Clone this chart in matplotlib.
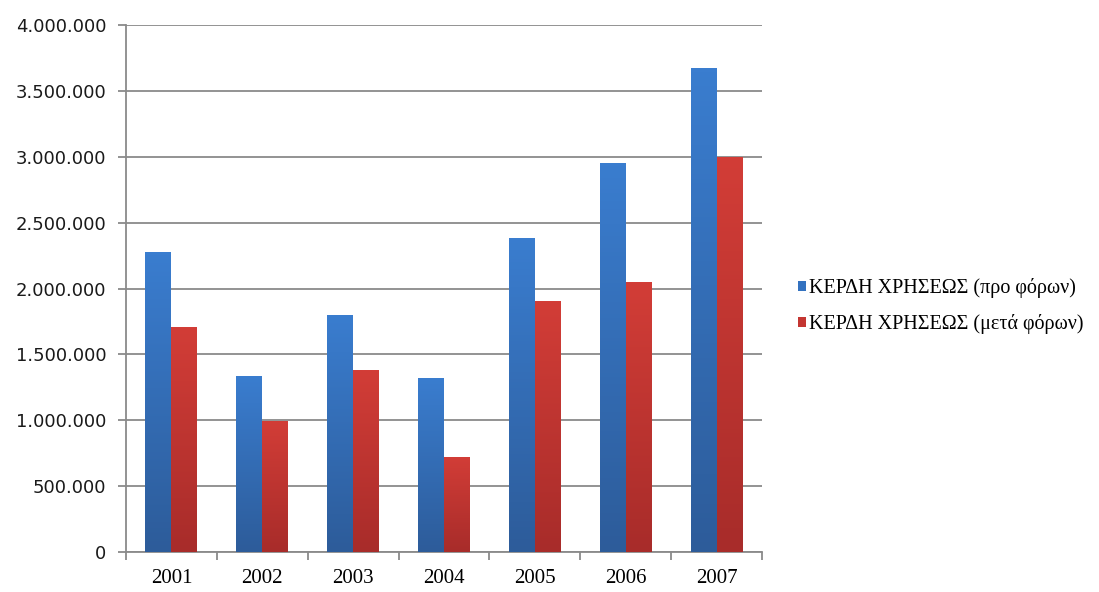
import numpy as np
import matplotlib.pyplot as plt
from matplotlib.colors import LinearSegmentedColormap
from matplotlib.ticker import FuncFormatter

years = ['2001', '2002', '2003', '2004', '2005', '2006', '2007']
before_tax = [2277000, 1336000, 1799000, 1323000, 2386000, 2955000, 3674000]
after_tax = [1705000, 995000, 1381000, 723000, 1905000, 2047000, 3000000]
labels = ['ΚΕΡΔΗ ΧΡΗΣΕΩΣ (προ φόρων)', 'ΚΕΡΔΗ ΧΡΗΣΕΩΣ (μετά φόρων)']

blue_cmap = LinearSegmentedColormap.from_list('b', ['#2d5c9a', '#3a7dcf'])
red_cmap = LinearSegmentedColormap.from_list('r', ['#a82c2a', '#d23d37'])

fig = plt.figure(figsize=(10.99, 5.92), dpi=100)
ax = fig.add_axes([126/1099, 1-552/592, (762-126)/1099, (552-25)/592])

x = np.arange(len(years))
w = 2/7
grad = np.linspace(0, 1, 100).reshape(-1, 1)


def gradient_bars(xs, vals, cmap, color, label):
    bars = ax.bar(xs, vals, w, color=color, label=label, zorder=2)
    for b in bars:
        bx, by = b.get_x(), b.get_y()
        im = ax.imshow(grad, cmap=cmap, aspect='auto', origin='lower',
                       extent=[bx, bx + b.get_width(), by, by + b.get_height()],
                       zorder=3)
        im.set_clip_path(b)
    return bars


gradient_bars(x - w/2, before_tax, blue_cmap, '#3372c0', labels[0])
gradient_bars(x + w/2, after_tax, red_cmap, '#c43632', labels[1])

ax.set_xlim(-0.5, 6.5)
ax.set_ylim(0, 4000000)
ax.set_yticks(np.arange(0, 4000001, 500000))
ax.yaxis.set_major_formatter(FuncFormatter(lambda v, p: f'{int(v):,}'.replace(',', '.')))
ax.grid(axis='y', color='#8a8a8a', linewidth=1.3, zorder=0)
ax.set_axisbelow(True)

ax.set_xticks(x)
ax.set_xticklabels(years, family='Liberation Serif', fontsize=15)
ax.set_xticks(np.arange(-0.5, 7, 1), minor=True)
ax.tick_params(axis='x', which='major', length=0, pad=12)
ax.tick_params(axis='x', which='minor', length=6, width=1.3, color='#8a8a8a', direction='out')
ax.tick_params(axis='y', length=6, width=1.3, color='#8a8a8a', labelsize=13,
               labelcolor='#1a1a1a', pad=8)

for s in ['top', 'right']:
    ax.spines[s].set_visible(False)
for s in ['left', 'bottom']:
    ax.spines[s].set_color('#8a8a8a')
    ax.spines[s].set_linewidth(1.3)

ax.legend(loc='center left', bbox_to_anchor=(790/1099, 1-306/592),
          bbox_transform=fig.transFigure, frameon=False, borderaxespad=0,
          prop={'family': 'Liberation Serif', 'size': 14.5},
          handlelength=0.4, handleheight=0.4, handletextpad=0.15, labelspacing=0.8)

fig.savefig('out.png', dpi=100)
